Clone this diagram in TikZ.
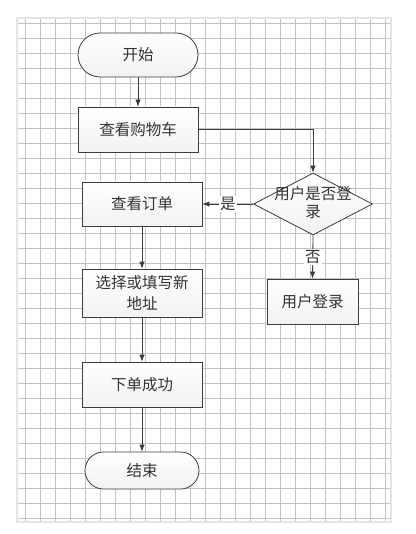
\documentclass[tikz,border=0pt]{standalone}
\usepackage{fontspec}
\setmainfont{Noto Sans CJK SC}
\usetikzlibrary{shapes.geometric,arrows.meta,positioning}
\definecolor{lineGray}{HTML}{3C3C3C}
\definecolor{gridGray}{HTML}{C2C2C2}
\tikzset{
  every picture/.style={line width=0.8pt},
  sgrid/.style={draw=gridGray, line width=0.45pt},
  spage/.style={draw=black!10, line width=1.2pt},
  sbox/.style={draw=lineGray, top color=white, bottom color=black!5, inner sep=0pt,
               font=\fontsize{15.5}{21}\selectfont, text=black!80, align=center},
  sproc/.style={sbox, rectangle, minimum width=120, minimum height=45},
  sterm/.style={sbox, rectangle},
  sdec/.style={sbox, diamond, minimum width=119, minimum height=62},
  sdectext/.style={font=\fontsize{15.5}{18}\selectfont, text=black!80, align=center, inner sep=0pt},
  sflow/.style={draw=lineGray, -{Latex[length=7pt,width=5.5pt]}},
  slabel/.style={fill=white, inner sep=1pt, font=\fontsize{15.5}{18}\selectfont, text=black!80},
}

\begin{document}
\begin{tikzpicture}[x=1pt, y=-1pt]
  \useasboundingbox (0,0) rectangle (415,534);
  % grid paper
  \fill[white] (0,0) rectangle (415,534);
  \foreach \gx in {25,40,...,385} \draw[sgrid] (\gx,18) -- (\gx,522);
  \foreach \gy in {23,38,...,518} \draw[sgrid] (17,\gy) -- (391,\gy);
  \draw[spage] (17,18) rectangle (391,522);

  \node[sterm, minimum width=120, minimum height=44, rounded corners=22pt] (start) at (138,55) {开始};
  \node[sproc] (cart) at (138,129.5) {查看购物车};
  \node[sdec] (logged) at (313,204) {};
  \node[sdectext] (loggedtxt) at (313,202.5) {用户是否登\\录};
  \node[sproc, minimum height=44] (order) at (142,204) {查看订单};
  \node[sproc, minimum height=48] (addr) at (142,293) {选择或填写新\\地址};
  \node[sproc, minimum width=91] (dologin) at (312.5,301.5) {用户登录};
  \node[sproc] (done) at (142,384.5) {下单成功};
  \node[sterm, minimum width=114, minimum height=37, rounded corners=18.5pt] (end) at (142,470.5) {结束};

  \draw[sflow] (start) -- (cart);
  \draw[sflow] (cart.east) -| (logged.north);
  \draw[sflow] (logged.west) -- node[slabel] {是} (order.east);
  \draw[sflow] (logged.south) -- node[slabel] {否} (dologin.north);
  \draw[sflow] (order) -- (addr);
  \draw[sflow] (addr) -- (done);
  \draw[sflow] (done) -- (end);
\end{tikzpicture}
\end{document}
